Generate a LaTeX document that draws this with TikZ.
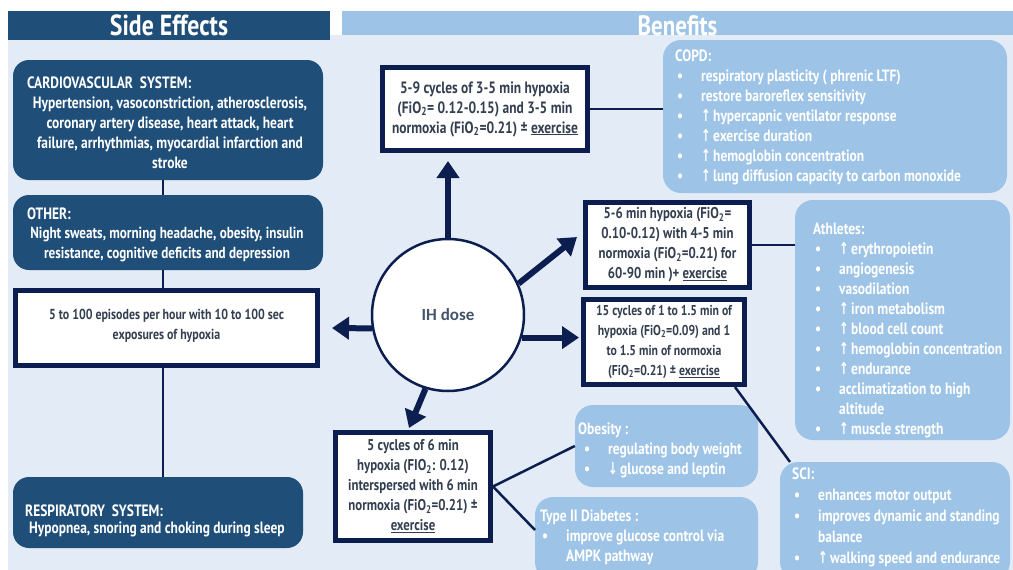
\documentclass[tikz,border=0pt]{standalone}
\usepackage{fontspec}
\setmainfont{PT Sans}[FakeStretch=0.82]
\newfontfamily\symf{DejaVu Sans}[FakeStretch=0.7]
\newfontfamily\calf{Carlito}
\usetikzlibrary{arrows.meta,fit}
\definecolor{dk}{HTML}{1F4E79}
\definecolor{navy}{HTML}{0C1E50}
\definecolor{lt}{HTML}{9DC3E6}
\definecolor{bg}{HTML}{E3EBF6}
\definecolor{txt}{HTML}{333F50}
\definecolor{ihtxt}{HTML}{44546A}
\newcommand\uarr{\makebox[12pt][l]{\symf\char"2191}}
\newcommand\darr{\makebox[12pt][l]{\symf\char"2193}}
\newcommand\bul{\makebox[26pt][l]{\hspace{2pt}•}}
\newcommand\ind{\hspace*{26pt}}
\newcommand\fs[1]{\fontsize{#1}{20}\selectfont\bfseries}
\newcommand\bx{\fs{16.4}}
\newcommand\subt{\textsubscript{2}}
\tikzset{
  darkbox/.style={fill=dk, rounded corners=16pt, inner sep=0pt},
  lightbox/.style={fill=lt, rounded corners=18pt, inner sep=0pt},
  whitebox/.style={fill=white, draw=navy, line width=5pt, inner sep=0pt},
  wtext/.style={align=center, text=txt, font=\bx, inner sep=0pt},
  ttext/.style={anchor=north west, align=left, text=white, font=\bx, inner sep=0pt},
  btext/.style={anchor=north, align=center, text=white, font=\bx, inner sep=0pt},
  bigarrow/.style={draw=navy, line width=6pt, -{Triangle[length=17pt,width=22pt]}},
  conn/.style={draw=navy, line width=2.5pt},
  head/.style={inner sep=0pt}
}
\begin{document}
\begin{tikzpicture}[x=1pt,y=-1pt]
\useasboundingbox (0,0) rectangle (1013,570);
\fill[white] (0,0) rectangle (1013,570);
\fill[bg] (8,11) rectangle (1013,570);
\fill[white] (330,11) rectangle (342,35);
% headers
\node[head, fill=dk, fit={(8,11) (330,40)}] (hse) {};
\node[text=white, font=\fontsize{29}{32}\selectfont\bfseries] at (hse) {Side Effects};
\node[head, fill=lt, fit={(342,11) (1013,35)}] (hben) {};
\node[text=white, font=\fontsize{28}{32}\selectfont\bfseries] at ([yshift=-3pt]hben) {Benefits};

% left column
\coordinate (vx) at (163,0);
\node[darkbox, fit={(13,60) (323,180)}] (cv) {};
\node[darkbox, fit={(13,195) (323,270)}] (oth) {};
\node[whitebox, fit={(15.5,290.5) (317.5,365.5)}] (ep) {};
\node[darkbox, fit={(13,477) (303,548)}] (resp) {};
\draw[conn] (cv.south -| vx) -- (oth.north -| vx);
\draw[conn] (oth.south -| vx) -- (ep.north -| vx);
\draw[conn] (ep.south -| vx) -- (resp.north -| vx);

\node[ttext] at (27,74) {\strut CARDIOVASCULAR\ \ SYSTEM:};
\node[btext] at (170,94) {\strut Hypertension, vasoconstriction, atherosclerosis,\\coronary artery disease, heart attack, heart\\failure, arrhythmias, myocardial infarction and\\stroke};
\node[ttext] at (27,205) {\strut OTHER:};
\node[btext, font=\fs{16}] at (167,224) {\strut Night sweats, morning headache, obesity, insulin\\resistance, cognitive deficits and depression};
\node[wtext, font=\fs{14.5}] at ([yshift=2pt]ep) {5 to 100 episodes per hour with 10 to 100 sec\\exposures of hypoxia};
\node[ttext] at (25,502) {\strut RESPIRATORY\ \ SYSTEM:};
\node[ttext] at (29,519) {\strut Hypopnea, snoring and choking during sleep};

% center
\node[circle, draw=navy, line width=2.5pt, fill=white, minimum size=152pt, inner sep=0pt] (ih) at (448,315) {};
\node[text=ihtxt, font=\calf\fontsize{17}{20}\selectfont\bfseries] at (ih) {IH dose};

\node[whitebox, fit={(382.5,67.5) (587.5,150.5)}] (b1) {};
\node[wtext] at (b1) {5-9 cycles of 3-5 min hypoxia\\(FiO\subt= 0.12-0.15) and 3-5 min\\normoxia (FiO\subt=0.21) ± \underline{exercise}};
\node[whitebox, fit={(585.5,202.5) (749.5,287.5)}] (b2) {};
\node[wtext, font=\fs{15.6}] at (b2) {5-6 min hypoxia (FiO\subt=\\0.10-0.12) with 4-5 min\\normoxia (FiO\subt=0.21) for\\60-90 min )+ \underline{exercise}};
\node[whitebox, fit={(583.5,299.5) (744.5,384.5)}] (b3) {};
\node[wtext, font=\fs{14.3}] at (b3) {15 cycles of 1 to 1.5 min of\\hypoxia (FiO\subt=0.09) and 1\\to 1.5 min of normoxia\\(FiO\subt=0.21) ± \underline{exercise}};
\node[whitebox, fit={(335.5,432.5) (490.5,540.5)}] (b4) {};
\node[wtext, font=\fs{15.6}] at (b4) {5 cycles of 6 min\\hypoxia (FIO\subt: 0.12)\\interspersed with 6 min\\normoxia (FiO\subt=0.21) ±\\\underline{exercise}};

% arrows
\draw[bigarrow] (ih.north) -- ([yshift=-8pt]b1.south -| ih.north);
\draw[bigarrow] (ih.24) -- (577,237);
\draw[bigarrow] (ih.-17) -- ([xshift=-2pt]ih.-17 -| b3.west);
\draw[bigarrow] (ih.190) -- (332,328);
\draw[bigarrow] (ih.-107) -- (409,428);

% benefit boxes
\node[lightbox, fit={(663,40) (1007,193)}] (copd) {};
\node[lightbox, fit={(795,200) (1010,440)}] (ath) {};
\node[lightbox, fit={(575,405) (758,487)}] (ob) {};
\node[lightbox, fit={(535,497) (758,580)}] (t2) {};
\node[lightbox, fit={(780,462) (1010,580)}] (sci) {};

\node[ttext] at (675,47) {\strut COPD:\\\bul respiratory plasticity ( phrenic LTF)\\\bul restore baroreflex sensitivity\\\bul\uarr hypercapnic ventilator response\\\bul\uarr exercise duration\\\bul\uarr hemoglobin concentration\\\bul\uarr lung diffusion capacity to carbon monoxide};
\node[ttext] at (813,220) {\strut Athletes:\\\bul\uarr erythropoietin\\\bul angiogenesis\\\bul vasodilation\\\bul\uarr iron metabolism\\\bul\uarr blood cell count\\\bul\uarr hemoglobin concentration\\\bul\uarr endurance\\\bul acclimatization to high\\\ind altitude\\\bul\uarr muscle strength};
\node[ttext] at (578,420) {\strut Obesity :\\\hspace*{4pt}\bul regulating body weight\\\hspace*{4pt}\bul\darr glucose and leptin};
\node[ttext] at (540,507) {\strut Type II Diabetes :\\\bul improve glucose control via\\\ind AMPK pathway};
\node[ttext, font=\fontsize{16.4}{21}\selectfont\bfseries] at (792,465) {\strut SCI:\\\bul enhances motor output\\\bul improves dynamic and standing\\\ind balance\\\bul\uarr walking speed and endurance};

% connectors
\draw[conn] (b1.east) -- (b1.east -| copd.west);
\draw[conn] (b2.east) -- (b2.east -| ath.west);
\coordinate (b3c) at (735,387);
\coordinate (scic) at (790,462);
\draw[conn] (b3c) -- (scic);
\draw[conn] (b4.east) -- (ob.west);
\draw[conn] (b4.east) -- (535,530);
\end{tikzpicture}
\end{document}
